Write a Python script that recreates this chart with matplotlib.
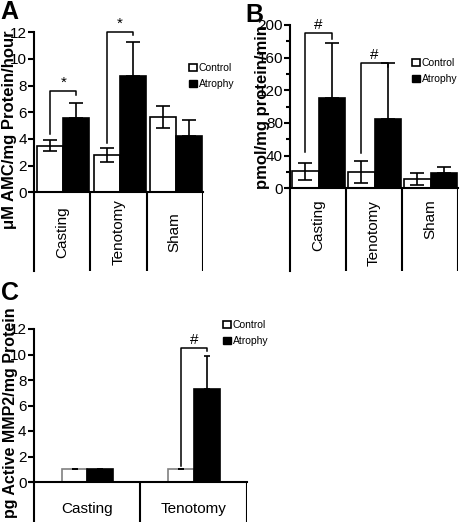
import matplotlib
matplotlib.use('Agg')
import matplotlib.pyplot as plt
from matplotlib.patches import Patch

plt.rcParams['font.family'] = ['Liberation Sans', 'DejaVu Sans']

W, H = 462, 522

# panel A: proteasome activity
groups_a = ['Casting', 'Tenotomy', 'Sham']
control_a = [3.5, 2.8, 5.65]
control_err_a = [0.4, 0.5, 0.8]
atrophy_a = [5.6, 8.7, 4.25]
atrophy_err_a = [1.1, 2.6, 1.15]
# (group, left foot, top, right foot, mark)
brackets_a = [(0, 4.4, 7.6, 7.3, '*'), (1, 3.7, 12.0, 11.8, '*')]

# panel B: pmol/mg protein/min
groups_b = ['Casting', 'Tenotomy', 'Sham']
control_b = [21, 20, 11]
control_err_b = [10.5, 13.5, 7.5]
atrophy_b = [110, 85, 18.5]
atrophy_err_b = [68, 68, 8]
brackets_b = [(0, 45, 190, 183, '#'), (1, 43, 153, 149, '#')]

# panel C: active MMP2
groups_c = ['Casting', 'Tenotomy']
control_c = [1.0, 1.05]
control_err_c = [0.0, 0.0]
atrophy_c = [1.0, 7.3]
atrophy_err_c = [0.03, 2.6]
brackets_c = [(1, 1.25, 10.5, 10.3, '#')]

legend_labels = ['Control', 'Atrophy']

fig = plt.figure(figsize=(W / 100, H / 100), dpi=100)


def px_axes(left, right, top, bottom):
    return fig.add_axes([left / W, 1 - bottom / H, (right - left) / W, (bottom - top) / H])


def panel(ax, groups, control, cerr, atrophy, aerr, brackets, ytop, ybot, yticks,
          minor=None, offset=0.06, width=0.46, edge='black', capsize=5):
    n = len(groups)
    ax.set_xlim(0, n)
    ax.set_ylim(ybot, ytop)
    xs_c = [i + offset for i in range(n)]
    xs_a = [i + offset + width for i in range(n)]
    ax.bar(xs_c, control, width, align='edge', facecolor='white', edgecolor=edge,
           linewidth=1.2, zorder=2)
    ax.bar(xs_a, atrophy, width, align='edge', facecolor='black', edgecolor='black',
           linewidth=1.2, zorder=2)
    ax.errorbar([x + width / 2 for x in xs_c], control, yerr=cerr, fmt='none',
                ecolor='black', elinewidth=1.2, capsize=capsize, capthick=1.2, zorder=3)
    ax.errorbar([x + width / 2 for x in xs_a], atrophy,
                yerr=[[0] * n, aerr], fmt='none', ecolor='black', elinewidth=1.2,
                capsize=capsize, capthick=1.2, zorder=3)
    for g, yl, yt, yr, mark in brackets:
        xl = g + offset + width / 2
        xr = g + offset + width * 1.5
        ax.plot([xl, xl, xr, xr], [yl, yt, yt, yr], color='black', lw=1.1,
                clip_on=False, zorder=4)
        ax.text((xl + xr) / 2, yt + (ytop - ybot) * 0.005, mark, ha='center',
                va='bottom', fontsize=11, clip_on=False)
    # category boxes below the axis
    ax.plot([-0.03, n], [0, 0], color='black', lw=1.5, clip_on=False, zorder=5)
    ax.vlines(range(1, n + 1), ybot, 0, color='black', lw=1.5)
    for s in ['top', 'right', 'bottom']:
        ax.spines[s].set_visible(False)
    ax.spines['left'].set_linewidth(1.5)
    ax.spines['left'].set_bounds(ybot, ytop)
    ax.set_yticks(yticks)
    if minor is not None:
        ax.set_yticks(minor, minor=True)
    ax.tick_params(axis='y', which='major', length=4, width=1.5, labelsize=11, pad=1)
    ax.tick_params(axis='y', which='minor', length=3, width=1.5)
    ax.set_xticks([])


def legend(ax, x_px, y_px):
    handles = [Patch(facecolor='white', edgecolor='black', linewidth=1.2),
               Patch(facecolor='black', edgecolor='black')]
    ax.legend(handles, legend_labels, loc='upper left',
              bbox_to_anchor=(x_px / W, 1 - y_px / H), bbox_transform=fig.transFigure,
              frameon=False, fontsize=7.5, handlelength=0.75, handleheight=0.75,
              handletextpad=0.2, labelspacing=0.6, borderpad=0, borderaxespad=0)


# ---- A ----
ax_a = px_axes(34, 203, 32.3, 271)
ybot_a = -(271 - 192.3) / 13.33
panel(ax_a, groups_a, control_a, control_err_a, atrophy_a, atrophy_err_a, brackets_a,
      12, ybot_a, range(0, 13, 2))
for i, g in enumerate(groups_a):
    ax_a.text(i + 0.5, -3.0, g, rotation=90, ha='center', va='center', fontsize=11)
legend(ax_a, 189, 63)

# ---- B ----
ax_b = px_axes(290, 458, 25, 271)
ybot_b = -(271 - 188.3) / 0.8167
panel(ax_b, groups_b, control_b, control_err_b, atrophy_b, atrophy_err_b, brackets_b,
      200, ybot_b, range(0, 201, 40), minor=range(20, 200, 40), offset=0.04, width=0.47)
for i, g in enumerate(groups_b):
    ax_b.text(i + 0.5, -14, g, rotation=90, ha='center', va='top', fontsize=11)
legend(ax_b, 412, 58)

# ---- C ----
ax_c = px_axes(33.5, 246.7, 329, 522)
ybot_c = -(522 - 482) / 12.75
panel(ax_c, groups_c, control_c, control_err_c, atrophy_c, atrophy_err_c, brackets_c,
      12, ybot_c, range(0, 13, 2), offset=0.265, width=0.24, edge='#808080', capsize=2)
for i, g in enumerate(groups_c):
    ax_c.text(i + 0.5, -2.1, g, ha='center', va='center', fontsize=11)
legend(ax_c, 223, 320)

# y labels and panel letters
fig.text(10 / W, 1 - 130 / H, 'μM AMC/mg Protein/hour', rotation=90, ha='center',
         va='center', fontsize=12, fontweight='bold')
fig.text(262 / W, 1 - 107.5 / H, 'pmol/mg protein/min', rotation=90, ha='center',
         va='center', fontsize=12, fontweight='bold')
fig.text(11 / W, 1 - 413 / H, 'pg Active MMP2/mg Protein', rotation=90, ha='center',
         va='center', fontsize=11.5, fontweight='bold')
fig.text(0 / W, 1 - 0 / H, 'A', ha='left', va='top', fontsize=18, fontweight='bold')
fig.text(245 / W, 1 - 3 / H, 'B', ha='left', va='top', fontsize=18, fontweight='bold')
fig.text(1 / W, 1 - 281 / H, 'C', ha='left', va='top', fontsize=18, fontweight='bold')

fig.savefig('out.png', dpi=100)
